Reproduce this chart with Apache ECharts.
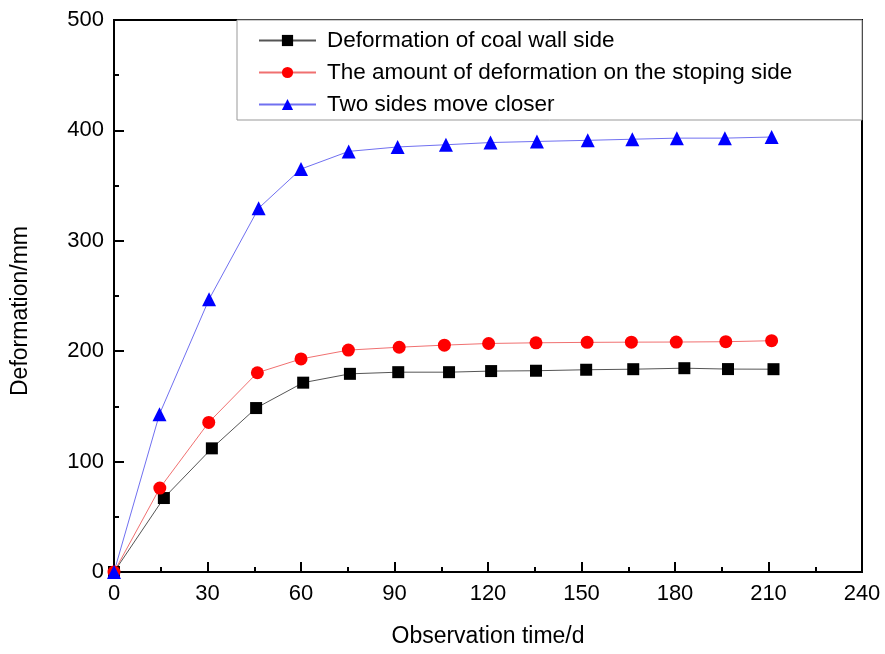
<!DOCTYPE html>
<html>
<head>
<meta charset="utf-8">
<script src="https://cdn.jsdelivr.net/npm/echarts@6/dist/echarts.min.js"></script>
<style>
  html, body { margin: 0; padding: 0; background: #fff; }
  #main { width: 885px; height: 654px; }
</style>
</head>
<body>
<div id="main"></div>
<script>
// observation days and deformation (mm)
var daysCoal   = [0, 16, 31.4, 45.6, 60.7, 75.7, 91.2, 107.5, 121, 135.4, 151.5, 166.6, 183, 197, 211.6];
var coalWall   = [0, 67, 112, 148.5, 171.5, 179.5, 181, 181, 182, 182.3, 183.2, 183.7, 184.6, 183.8, 183.7];

var daysStope  = [0, 14.7, 30.4, 46, 60, 75.2, 91.5, 106, 120.2, 135.4, 151.8, 166, 180.4, 196.3, 211];
var stopeSide  = [0, 76, 135.5, 180.5, 193, 201, 203.6, 205.5, 207, 207.6, 208, 208.2, 208.3, 208.6, 209.5];

var daysClose  = [0, 14.6, 30.5, 46.4, 60, 75.3, 91, 106.5, 120.8, 135.7, 152, 166.3, 180.6, 196, 211];
var closeIn    = [0, 143, 247, 329.5, 365, 381, 385, 387, 389, 390, 391, 392, 393, 393, 394];

var seriesNames = [
  'Deformation of coal wall side',
  'The amount of deformation on the stoping side',
  'Two sides move closer'
];

function pairs(xs, ys) {
  return xs.map(function (x, i) { return [x, ys[i]]; });
}

var font = 'Liberation Sans, Arial, sans-serif';
var chart = echarts.init(document.getElementById('main'));

var option = {
  animation: false,
  backgroundColor: '#fff',
  grid: {
    left: 114, right: 23, top: 20, bottom: 82,
    show: true, borderColor: '#000', borderWidth: 2
  },
  graphic: [{
    type: 'rect',
    shape: { x: 237, y: 20, width: 625, height: 100 },
    style: { fill: '#fff', stroke: '#999', lineWidth: 1 },
    z: 50
  }],
  legend: {
    orient: 'vertical',
    left: 258, top: 29,
    padding: 0,
    itemWidth: 57, itemHeight: 14, itemGap: 9,
    z: 60,
    textStyle: { fontFamily: font, fontSize: 22.5, color: '#000', lineHeight: 21, padding: [0, 0, 0, 6] },
    data: seriesNames
  },
  xAxis: {
    type: 'value',
    min: 0, max: 240, interval: 30,
    name: 'Observation time/d',
    nameLocation: 'middle', nameGap: 53,
    nameTextStyle: { fontFamily: font, fontSize: 23, color: '#000' },
    axisLine: { lineStyle: { color: '#000', width: 2 } },
    axisTick: { inside: true, length: 10, lineStyle: { color: '#000', width: 2 } },
    minorTick: { show: true, splitNumber: 2, length: 5, lineStyle: { color: '#000', width: 2 } },
    axisLabel: { fontFamily: font, fontSize: 22, color: '#000', margin: 11 },
    splitLine: { show: false }
  },
  yAxis: {
    type: 'value',
    min: 0, max: 500, interval: 100,
    name: 'Deformation/mm',
    nameLocation: 'middle', nameGap: 82,
    nameTextStyle: { fontFamily: font, fontSize: 23, color: '#000', padding: [0, 30, 0, 0] },
    axisLine: { show: true, lineStyle: { color: '#000', width: 2 } },
    axisTick: { show: true, inside: true, length: 10, lineStyle: { color: '#000', width: 2 } },
    minorTick: { show: true, splitNumber: 2, length: 5, lineStyle: { color: '#000', width: 2 } },
    axisLabel: { fontFamily: font, fontSize: 22, color: '#000', margin: 10 },
    splitLine: { show: false }
  },
  series: [
    {
      name: seriesNames[0], type: 'line',
      data: pairs(daysCoal, coalWall),
      symbol: 'rect', symbolSize: 12,
      itemStyle: { color: '#000' },
      lineStyle: { color: '#555', width: 1 }
    },
    {
      name: seriesNames[1], type: 'line',
      data: pairs(daysStope, stopeSide),
      symbol: 'circle', symbolSize: 13,
      itemStyle: { color: '#ff0000' },
      lineStyle: { color: '#f07070', width: 1 }
    },
    {
      name: seriesNames[2], type: 'line',
      data: pairs(daysClose, closeIn),
      symbol: 'triangle', symbolSize: 14,
      itemStyle: { color: '#0000ff' },
      lineStyle: { color: '#7070f0', width: 1 }
    }
  ]
};

chart.setOption(option);
</script>
</body>
</html>
